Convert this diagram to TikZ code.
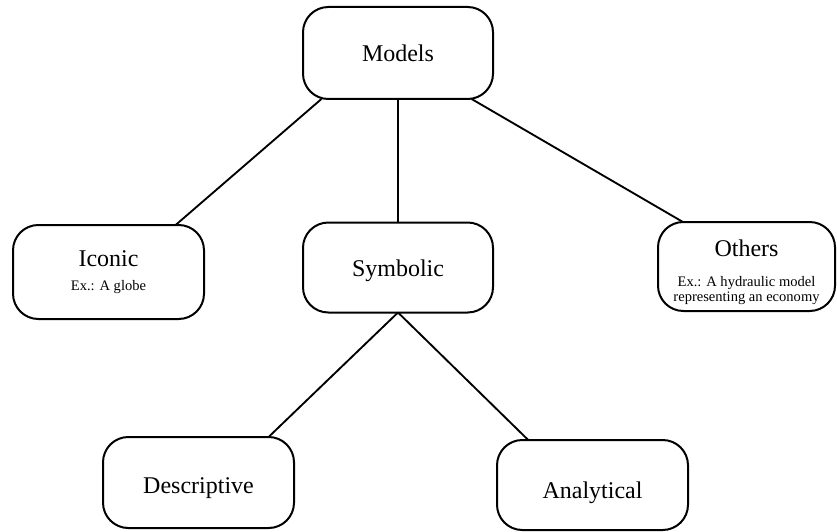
\documentclass[tikz,border=0pt]{standalone}
\usepackage{fontspec}
\setmainfont{Liberation Serif}
\begin{document}
\begin{tikzpicture}[x=0.75pt,y=-0.75pt,
  box/.style={draw, line width=1.5pt, rounded corners=19pt, inner sep=0pt, outer sep=0pt,
    align=center, font=\fontsize{18}{20}\selectfont},
  smallbox/.style={box, font=\fontsize{10.9}{11.25}\selectfont},
  link/.style={line width=1.4pt}]
\useasboundingbox (0,0) rectangle (837,531);
\node[box, minimum width=142.5pt, minimum height=69pt] (models) at (398,53) {Models};
\node[smallbox, minimum width=143.25pt, minimum height=70.5pt] (iconic) at (108.5,272)
  {{\fontsize{18}{20}\selectfont Iconic}\\[7pt] Ex.: A globe};
\node[box, minimum width=142.5pt, minimum height=67.5pt] (symbolic) at (398,267.5) {\rule{0pt}{17pt}Symbolic};
\node[smallbox, minimum width=132.75pt, minimum height=66.75pt] (others) at (746.5,266.5)
  {\rule{0pt}{21pt}{\fontsize{18}{20}\selectfont Others}\\[11.25pt] Ex.: A hydraulic model\\ representing an economy};
\node[box, minimum width=143.25pt, minimum height=68.25pt] (descriptive) at (198.5,482.5) {\rule{0pt}{20pt}Descriptive};
\node[box, minimum width=143.25pt, minimum height=67.5pt] (analytical) at (592.5,485) {\rule{0pt}{24pt}Analytical};
\draw[link] (models.211) -- (iconic.35);
\draw[link] (models.south) -- (symbolic.north);
\draw[link] (models.328) -- (others.145);
\draw[link] (symbolic.south) -- (descriptive.33);
\draw[link] (symbolic.south) -- (analytical.145);
\end{tikzpicture}
\end{document}
